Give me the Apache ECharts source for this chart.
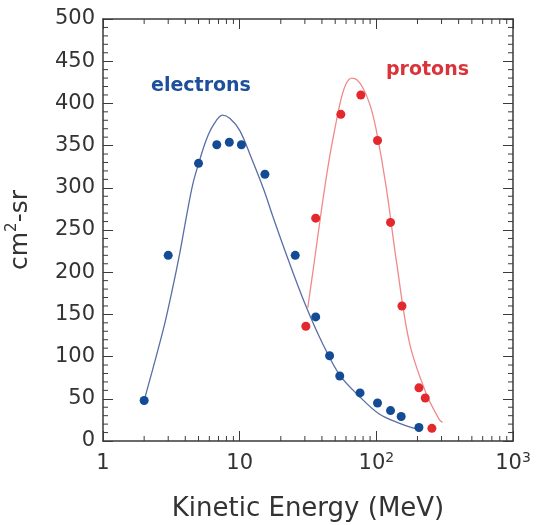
<!DOCTYPE html>
<html>
<head>
<meta charset="utf-8">
<script src="https://cdn.jsdelivr.net/npm/echarts@6/dist/echarts.min.js"></script>
<style>html,body{margin:0;padding:0;background:#fff;}#c{width:537px;height:525px;}</style>
</head>
<body>
<div id="c"></div>
<script>
// ---- data ----
const xTickValues = [1, 10, 100, 1000];
const yTickLabels = [0, 50, 100, 150, 200, 250, 300, 350, 400, 450, 500];
const minorXTicks = [2,3,4,5,6,7,8,9,20,30,40,50,60,70,80,90,200,300,400,500,600,700,800,900];
const minorYTicks = [10,20,30,40,60,70,80,90,110,120,130,140,160,170,180,190,210,220,230,240,260,270,280,290,310,320,330,340,360,370,380,390,410,420,430,440,460,470,480,490];

const electronPoints = [[2,48],[3,220],[5,329],[6.8,351],[8.4,354],[10.3,351],[15.3,316],[25.5,220],[36,147],[45.5,101],[54,77],[76,57],[102,45],[127,36],[152,29],[205,16]];
const electronCurve = [[2,48],[2.75,131],[3.2,178],[3.64,222],[4.1,268],[4.55,305],[5.1,333],[5.7,357],[6.4,374],[7.5,386],[8.5,382],[10,368],[12,338],[15,298],[17.5,266],[23,212],[30,163],[40,117],[54,78],[75,53],[105,32],[148,21],[200,14]];

const protonPoints = [[30.5,136],[36,264],[55,387],[77,410],[102,356],[127,259],[154,160],[205,63],[228,51],[255,15]];
const protonCurve = [[31.5,158],[35,210],[40,278],[45,332],[50,372],[55,404],[60,423],[66,430],[72,428],[80,418],[90,398],[100,368],[118,301],[140,214],[175,116],[232,56],[290,25],[305,22]];

const FONT = 'DejaVu Sans';
const chart = echarts.init(document.getElementById('c'), null, {renderer: 'canvas'});

function xLabel(v) {
  if (v === 1) return '1';
  if (v === 10) return '10';
  if (v === 100) return '10{sup|2}';
  if (v === 1000) return '10{sup|3}';
  return '';
}

const frameColor = '#3a3a3a';
const tickStyle = {stroke: frameColor, lineWidth: 1};
const option = {
  animation: false,
  backgroundColor: '#ffffff',
  grid: {left: 103, right: 24, top: 19, bottom: 84, containLabel: false, outerBoundsMode: 'none'},
  xAxis: [{
    type: 'log', logBase: 10, min: 1, max: 1000,
    axisLine: {show: true, onZero: false, lineStyle: {color: frameColor, width: 1.5}},
    axisTick: {show: true, inside: true, length: 10, lineStyle: {color: frameColor, width: 1}},
    splitLine: {show: false},
    axisLabel: {
      formatter: xLabel, margin: 10, color: '#333', fontFamily: FONT, fontSize: 21, lineHeight: 26,
      rich: {sup: {fontSize: 14, fontFamily: FONT, color: '#333', verticalAlign: 'top', lineHeight: 26, padding: [0,0,8,0]}}
    },
    name: 'Kinetic Energy (MeV)', nameLocation: 'middle', nameGap: 55,
    nameTextStyle: {fontFamily: FONT, fontSize: 26, color: '#333'}
  }, {
    type: 'log', logBase: 10, min: 1, max: 1000, position: 'top',
    axisLine: {show: true, onZero: false, lineStyle: {color: frameColor, width: 1.5}},
    axisTick: {show: true, inside: true, length: 10, lineStyle: {color: frameColor, width: 1}},
    axisLabel: {show: false}, splitLine: {show: false}
  }],
  yAxis: [{
    type: 'value', min: 0, max: 500, interval: 50,
    axisLine: {show: true, onZero: false, lineStyle: {color: frameColor, width: 1.5}},
    axisTick: {show: true, inside: true, length: 10, lineStyle: {color: frameColor, width: 1}},
    splitLine: {show: false},
    axisLabel: {
      color: '#333', fontFamily: FONT, fontSize: 21, margin: 8,
      formatter: function (v) { return yTickLabels.indexOf(v) >= 0 ? String(v) : ''; }
    },
    name: 'cm{sup|2}-sr', nameLocation: 'middle', nameGap: 68, nameRotate: 90,
    nameTextStyle: {fontFamily: FONT, fontSize: 25, color: '#333', lineHeight: 30,
      rich: {sup: {fontFamily: FONT, fontSize: 15, color: '#333', verticalAlign: 'top', lineHeight: 30, padding:[0,0,10,0]}}}
  }, {
    type: 'value', min: 0, max: 500, interval: 50, position: 'right',
    axisLine: {show: true, onZero: false, lineStyle: {color: frameColor, width: 1.5}},
    axisTick: {show: true, inside: true, length: 10, lineStyle: {color: frameColor, width: 1}},
    splitLine: {show: false}, axisLabel: {show: false}
  }],
  graphic: [
    {type: 'text', left: 151, top: 77, style: {text: 'electrons', font: 'bold 19px "DejaVu Sans"', fill: '#1d4f9a'}},
    {type: 'text', left: 386, top: 61, style: {text: 'protons', font: 'bold 19px "DejaVu Sans"', fill: '#d9343a'}}
  ],
  series: [
    {
      type: 'custom', xAxisIndex: 0, yAxisIndex: 0, silent: true, clip: false,
      data: minorXTicks.map(v => [v]),
      renderItem: function (params, api) {
        const v = api.value(0);
        const b = api.coord([v, 0]);
        const t = api.coord([v, 500]);
        return {type: 'group', children: [
          {type: 'line', shape: {x1: b[0], y1: b[1], x2: b[0], y2: b[1] - 5}, style: tickStyle},
          {type: 'line', shape: {x1: t[0], y1: t[1], x2: t[0], y2: t[1] + 5}, style: tickStyle}
        ]};
      }
    },
    {
      type: 'custom', xAxisIndex: 0, yAxisIndex: 0, silent: true, clip: false,
      data: minorYTicks.map(v => [1, v]),
      renderItem: function (params, api) {
        const v = api.value(1);
        const l = api.coord([1, v]);
        const r = api.coord([1000, v]);
        return {type: 'group', children: [
          {type: 'line', shape: {x1: l[0], y1: l[1], x2: l[0] + 5, y2: l[1]}, style: tickStyle},
          {type: 'line', shape: {x1: r[0], y1: r[1], x2: r[0] - 5, y2: r[1]}, style: tickStyle}
        ]};
      }
    },
    {type: 'line', data: electronCurve, smooth: 0.35, showSymbol: false, lineStyle: {color: '#5a6ea6', width: 1.3}, z: 2},
    {type: 'line', data: protonCurve, smooth: 0.35, showSymbol: false, lineStyle: {color: '#f08a8a', width: 1.3}, z: 2},
    {type: 'scatter', data: electronPoints, symbolSize: 9, itemStyle: {color: '#134b95', opacity: 1}, z: 3},
    {type: 'scatter', data: protonPoints, symbolSize: 9, itemStyle: {color: '#e3282e', opacity: 1}, z: 3}
  ]
};
chart.setOption(option);
</script>
</body>
</html>
